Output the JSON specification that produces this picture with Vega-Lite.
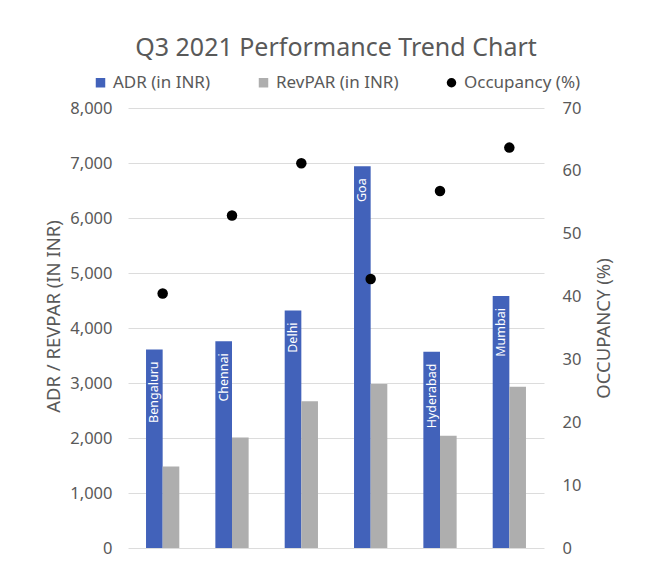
{
  "$schema": "https://vega.github.io/schema/vega-lite/v6.json",
  "width": 416,
  "height": 440,
  "autosize": {"type": "none"},
  "padding": {"left": 128, "top": 108, "right": 127, "bottom": 32},
  "background": "white",
  "config": {
    "view": {"stroke": null},
    "font": "Noto Sans",
    "legend": {
      "orient": "none",
      "legendX": -36,
      "legendY": -34,
      "direction": "horizontal",
      "title": null,
      "labelColor": "#595959",
      "labelFontSize": 17,
      "labelFont": "Noto Sans",
      "columnPadding": 44,
      "symbolSize": 90,
      "symbolOpacity": 1,
      "symbolStrokeWidth": 0
    }
  },
  "title": {
    "text": "Q3 2021 Performance Trend Chart",
    "fontSize": 25,
    "font": "Noto Sans",
    "fontWeight": "normal",
    "color": "#595959",
    "anchor": "middle",
    "offset": 13
  },
  "data": {
    "values": [
      {"city": "Bengaluru", "series": "ADR (in INR)", "value": 3610},
      {"city": "Bengaluru", "series": "RevPAR (in INR)", "value": 1480},
      {"city": "Bengaluru", "series": "Occupancy (%)", "value": 40.5},
      {"city": "Chennai", "series": "ADR (in INR)", "value": 3760},
      {"city": "Chennai", "series": "RevPAR (in INR)", "value": 2010},
      {"city": "Chennai", "series": "Occupancy (%)", "value": 52.9},
      {"city": "Delhi", "series": "ADR (in INR)", "value": 4320},
      {"city": "Delhi", "series": "RevPAR (in INR)", "value": 2670},
      {"city": "Delhi", "series": "Occupancy (%)", "value": 61.2},
      {"city": "Goa", "series": "ADR (in INR)", "value": 6940},
      {"city": "Goa", "series": "RevPAR (in INR)", "value": 2980},
      {"city": "Goa", "series": "Occupancy (%)", "value": 42.8},
      {"city": "Hyderabad", "series": "ADR (in INR)", "value": 3570},
      {"city": "Hyderabad", "series": "RevPAR (in INR)", "value": 2040},
      {"city": "Hyderabad", "series": "Occupancy (%)", "value": 56.8},
      {"city": "Mumbai", "series": "ADR (in INR)", "value": 4580},
      {"city": "Mumbai", "series": "RevPAR (in INR)", "value": 2930},
      {"city": "Mumbai", "series": "Occupancy (%)", "value": 63.7}
    ]
  },
  "encoding": {
    "x": {
      "field": "city",
      "type": "nominal",
      "sort": null,
      "scale": {"paddingInner": 0.52, "paddingOuter": 0.26},
      "axis": null
    },
    "color": {
      "field": "series",
      "type": "nominal",
      "scale": {
        "domain": ["ADR (in INR)", "RevPAR (in INR)", "Occupancy (%)"],
        "range": ["#4262BA", "#AEAEAE", "#000000"]
      }
    }
  },
  "layer": [
    {
      "transform": [{"filter": "datum.series !== 'Occupancy (%)'"}],
      "encoding": {
        "y": {
          "field": "value",
          "type": "quantitative",
          "scale": {"domain": [0, 8000], "nice": false},
          "axis": {
            "values": [0, 1000, 2000, 3000, 4000, 5000, 6000, 7000, 8000],
            "format": ",d",
            "ticks": false,
            "domain": false,
            "grid": true,
            "gridColor": "#dcdcdc",
            "labelPadding": 16,
            "labelColor": "#595959",
            "labelFontSize": 16.5,
            "labelFont": "Noto Sans",
            "title": "ADR / REVPAR (IN INR)",
            "titleFont": "Noto Sans",
            "titleFontSize": 18.5,
            "titleFontWeight": "normal",
            "titleColor": "#595959",
            "titlePadding": 6,
            "titleY": 208
          }
        }
      },
      "layer": [
        {
          "mark": {"type": "bar"},
          "encoding": {
            "xOffset": {"field": "series", "type": "nominal", "sort": ["ADR (in INR)", "RevPAR (in INR)"]}
          }
        },
        {
          "transform": [{"filter": "datum.series === 'ADR (in INR)'"}],
          "mark": {
            "type": "text",
            "angle": 270,
            "align": "right",
            "baseline": "middle",
            "dx": -12,
            "color": "white",
            "fontSize": 12.5,
            "font": "Noto Sans"
          },
          "encoding": {
            "xOffset": {"field": "series", "type": "nominal", "sort": ["ADR (in INR)", "RevPAR (in INR)"]},
            "text": {"field": "city"},
            "color": {"value": "white"}
          }
        }
      ]
    },
    {
      "transform": [{"filter": "datum.series === 'Occupancy (%)'"}],
      "mark": {"type": "point", "filled": true, "size": 110, "opacity": 1},
      "encoding": {
        "y": {
          "field": "value",
          "type": "quantitative",
          "scale": {"domain": [0, 70], "nice": false},
          "axis": {
            "orient": "right",
            "values": [0, 10, 20, 30, 40, 50, 60, 70],
            "ticks": false,
            "domain": false,
            "grid": false,
            "labelPadding": 18,
            "labelColor": "#595959",
            "labelFontSize": 16.5,
            "labelFont": "Noto Sans",
            "title": "OCCUPANCY (%)",
            "titleFont": "Noto Sans",
            "titleFontSize": 18.5,
            "titleFontWeight": "normal",
            "titleColor": "#595959",
            "titleAngle": 270,
            "titleBaseline": "top",
            "titlePadding": 14
          }
        },
        "shape": {
          "field": "series",
          "type": "nominal",
          "scale": {
            "domain": ["ADR (in INR)", "RevPAR (in INR)", "Occupancy (%)"],
            "range": ["square", "square", "circle"]
          }
        }
      }
    }
  ],
  "resolve": {"scale": {"y": "independent"}}
}
